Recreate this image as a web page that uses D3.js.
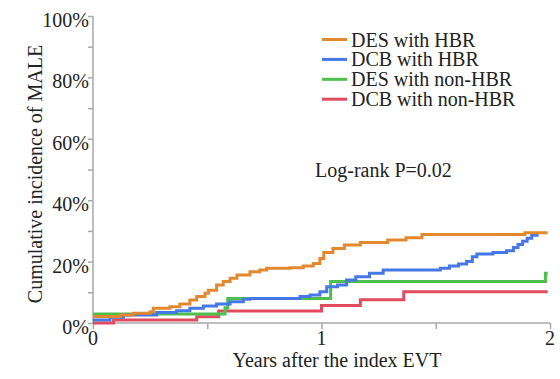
<!DOCTYPE html>
<html>
<head>
<meta charset="utf-8">
<script src="https://cdn.jsdelivr.net/npm/d3@7"></script>
<style>
  html, body { margin: 0; padding: 0; background: #fff; }
  svg { display: block; }
  svg text { font-family: "Liberation Serif", "Times New Roman", serif !important; }
</style>
</head>
<body>
<svg id="chart" width="560" height="379" font-family="Liberation Serif, serif"></svg>
<script>
// ---- data (years, cumulative incidence %) ----
const seriesNames = ["DES with HBR", "DCB with HBR", "DES with non-HBR", "DCB with non-HBR"];
const seriesColors = ["#E2892F", "#4677E6", "#4CBF4C", "#E04B5E"];

const desHbrTime  = [0, 0.118, 0.176, 0.25, 0.264, 0.337, 0.38, 0.424, 0.454, 0.49, 0.505, 0.541, 0.57, 0.6, 0.63, 0.687, 0.73, 0.76, 0.862, 0.92, 0.964, 0.993, 1.01, 1.05, 1.1, 1.17, 1.29, 1.37, 1.44, 1.89, 1.99];
const desHbrValue = [2.1, 2.6, 3.2, 3.7, 4.8, 5.3, 6.2, 7.5, 8.6, 9.7, 10.7, 12.4, 13.5, 14.6, 15.6, 16.7, 17.3, 17.8, 18.0, 18.6, 19.4, 21.0, 23.0, 24.3, 25.4, 26.2, 27.0, 27.8, 28.8, 29.4, 29.4];

const dcbHbrTime  = [0, 0.074, 0.133, 0.279, 0.366, 0.424, 0.483, 0.541, 0.6, 0.658, 0.687, 0.906, 0.95, 0.993, 1.023, 1.07, 1.11, 1.15, 1.21, 1.27, 1.52, 1.56, 1.6, 1.635, 1.66, 1.68, 1.75, 1.81, 1.84, 1.86, 1.88, 1.9, 1.92, 1.95];
const dcbHbrValue = [1.0, 1.9, 2.6, 3.4, 4.0, 4.8, 5.5, 6.2, 6.9, 7.7, 8.0, 8.6, 9.1, 10.2, 11.8, 12.4, 14.0, 15.1, 16.2, 17.3, 17.8, 18.6, 19.2, 20.0, 21.6, 22.5, 23.0, 23.5, 24.6, 25.6, 26.6, 27.6, 28.6, 28.6];

const desNonTime  = [0, 0.578, 0.59, 1.04, 1.98, 1.99];
const desNonValue = [2.9, 5.0, 8.0, 13.5, 16.2, 16.2];

const dcbNonTime  = [0, 0.09, 0.454, 0.55, 1.0, 1.17, 1.36, 1.99];
const dcbNonValue = [0, 1.0, 2.0, 3.9, 5.7, 7.6, 10.2, 10.2];

const xTicks = [0, 1, 2];
const xMinorTicks = [0, 0.5, 1, 1.5, 2];
const yTicks = [0, 20, 40, 60, 80, 100];
const yMinorTicks = [0, 10, 20, 30, 40, 50, 60, 70, 80, 90, 100];

const xTitle = "Years after the index EVT";
const yTitle = "Cumulative incidence of MALE";
const annotation = "Log-rank P=0.02";

// ---- build ----
const FONT = "Liberation Serif, Times New Roman, serif";
const svg = d3.select("#chart");
const x = d3.scaleLinear().domain([0, 2]).range([93, 550]);
const y = d3.scaleLinear().domain([0, 100]).range([323, 16]);

const axisColor = "#a9a9a9";
const textColor = "#222";

function label(sel) {
  return sel.attr("font-family", FONT).attr("font-size", 20).attr("fill", textColor);
}

// y axis
const yAxisG = svg.append("g").attr("transform", `translate(${x(0)},0)`);
yAxisG.call(d3.axisLeft(y).tickValues(yMinorTicks).tickSize(5).tickFormat(""));
yAxisG.select(".domain").attr("d", `M0,${y(100)}V${y(0)}`);
yAxisG.selectAll("path, line").attr("stroke", axisColor).attr("stroke-width", 1.5);
svg.append("g").attr("transform", `translate(${x(0)},0)`)
  .selectAll("text").data(yTicks).join("text")
  .attr("x", -4).attr("y", d => y(d) + 11)
  .attr("text-anchor", "end").call(label)
  .text(d => d + "%");

// x axis
const xAxisG = svg.append("g").attr("transform", `translate(0,${y(0)})`);
xAxisG.call(d3.axisBottom(x).tickValues(xMinorTicks).tickSize(6).tickFormat(""));
xAxisG.select(".domain").attr("d", `M${x(0)},0H${x(2)}`);
xAxisG.selectAll("path, line").attr("stroke", axisColor).attr("stroke-width", 1.5);
svg.append("g").selectAll("text").data(xTicks).join("text")
  .attr("x", d => x(d)).attr("y", 345)
  .attr("text-anchor", "middle").call(label)
  .text(d => d);

// titles
svg.append("text").attr("x", 337).attr("y", 367).attr("text-anchor", "middle")
  .call(label).text(xTitle);
svg.append("text").attr("transform", "translate(42,174) rotate(-90)")
  .attr("text-anchor", "middle").call(label).text(yTitle);

// curves
const data = [
  desHbrTime.map((t, i) => [t, desHbrValue[i]]),
  dcbHbrTime.map((t, i) => [t, dcbHbrValue[i]]),
  desNonTime.map((t, i) => [t, desNonValue[i]]),
  dcbNonTime.map((t, i) => [t, dcbNonValue[i]])
];
const line = d3.line().x(d => x(d[0])).y(d => y(d[1])).curve(d3.curveStepAfter);
const drawOrder = [3, 2, 1, 0];
svg.append("g").selectAll("path").data(drawOrder).join("path")
  .attr("d", i => line(data[i]))
  .attr("fill", "none").attr("stroke", i => seriesColors[i])
  .attr("stroke-width", 3).attr("stroke-linejoin", "miter");

// legend
const lg = svg.append("g");
seriesNames.forEach((name, i) => {
  const ly = 39.5 + i * 19.9;
  lg.append("line").attr("x1", 322).attr("x2", 347).attr("y1", ly).attr("y2", ly)
    .attr("stroke", seriesColors[i]).attr("stroke-width", 3);
  lg.append("text").attr("x", 351).attr("y", ly + 7).call(label).text(name);
});

// annotation
svg.append("text").attr("x", 315).attr("y", 177).call(label).text(annotation);
</script>
</body>
</html>
